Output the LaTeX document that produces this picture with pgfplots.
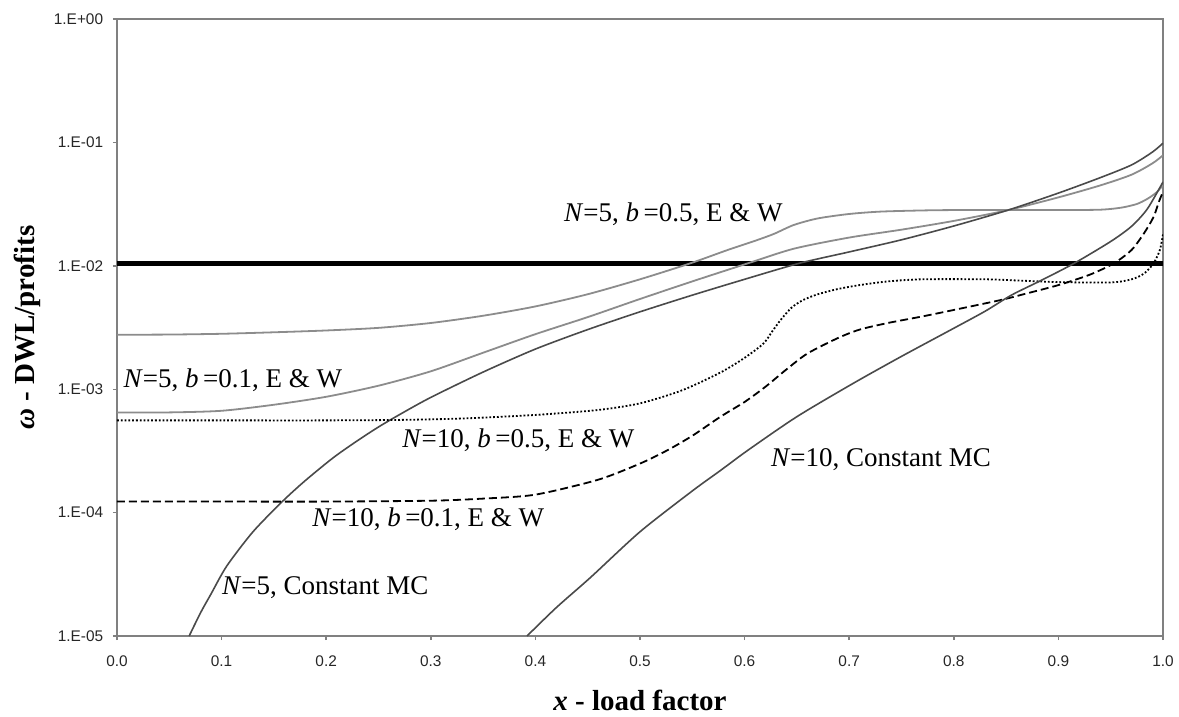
\documentclass[border=0pt]{standalone}
\usepackage{fontspec}
\setmainfont{Liberation Serif}
\newfontfamily\tickfont{Liberation Sans}
\usepackage{pgfplots}
\pgfplotsset{compat=1.18}
\definecolor{lgray}{HTML}{8C8C8C}
\definecolor{dgray}{HTML}{4A4A4A}
\definecolor{axgray}{HTML}{808080}
\newcommand{\lab}{\fontsize{13.5}{16}\selectfont}
\begin{document}
\begin{tikzpicture}
\useasboundingbox (-58.5pt,-40.5pt) rectangle (531pt,318pt);
\begin{axis}[
  at={(0,0)}, anchor=south west,
  scale only axis, width=523pt, height=308.35pt,
  xmin=0, xmax=1, ymin=1e-5, ymax=1, ymode=log,
  xtick={0,0.1,0.2,0.3,0.4,0.5,0.6,0.7,0.8,0.9,1},
  xticklabels={0.0,0.1,0.2,0.3,0.4,0.5,0.6,0.7,0.8,0.9,1.0},
  ytick={1e-5,1e-4,1e-3,1e-2,1e-1,1},
  yticklabels={1.E-05,1.E-04,1.E-03,1.E-02,1.E-01,1.E+00},
  yminorticks=false,
  tick pos=left, tick align=outside,
  major tick length=2pt,
  tick style={axgray, line width=0.8pt},
  axis line style={axgray, line width=0.9pt},
  ticklabel style={font=\tickfont\fontsize{7.7}{9}\selectfont, text=black!85},
  xticklabel style={yshift=-4.5pt},
  yticklabel style={xshift=-1.4pt},
  xlabel={\textbf{\textit{x} - load factor}},
  ylabel={\textbf{\textit{ω} - DWL/profits}},
  xlabel style={at={(axis description cs:0.5,-0.105)}, anchor=center, font=\fontsize{14.5}{17}\selectfont},
  ylabel style={at={(axis description cs:-0.086,0.5)}, anchor=center, rotate=0, font=\fontsize{14.5}{17}\selectfont},
  clip=true,
  every axis plot/.append style={smooth, tension=0.45},
]
% threshold line
\addplot[black, line width=2.3pt, sharp plot] coordinates {(0,0.0105) (1,0.0105)};
% N=5, b=0.5
\addplot[lgray, line width=0.9pt] coordinates {
(0,2.77e-3) (0.05,2.78e-3) (0.1,2.82e-3) (0.15,2.9e-3) (0.2,3.0e-3) (0.25,3.15e-3)
(0.3,3.45e-3) (0.35,3.95e-3) (0.4,4.7e-3) (0.45,5.9e-3) (0.5,7.8e-3) (0.548,0.0105)
(0.584,0.0135) (0.61,0.0160) (0.628,0.0182) (0.647,0.0215) (0.67,0.0243) (0.7,0.0264)
(0.73,0.0276) (0.77,0.0282) (0.8,0.0284) (0.85,0.0284) (0.9,0.0284) (0.94,0.0286)
(0.96,0.0297) (0.975,0.0318) (0.985,0.0350) (0.993,0.039) (1.0,0.045)};
% N=5, b=0.1
\addplot[lgray, line width=0.9pt] coordinates {
(0,6.5e-4) (0.05,6.5e-4) (0.1,6.7e-4) (0.15,7.5e-4) (0.2,8.7e-4) (0.25,1.07e-3)
(0.3,1.40e-3) (0.35,1.98e-3) (0.4,2.8e-3) (0.45,3.85e-3) (0.5,5.4e-3) (0.55,7.5e-3)
(0.603,0.0105) (0.647,0.0138) (0.7,0.0170) (0.75,0.0197) (0.8,0.0232) (0.852,0.0284)
(0.9,0.036) (0.94,0.045) (0.97,0.055) (0.99,0.068) (1.0,0.079)};
% N=5, constant MC
\addplot[dgray, line width=0.8pt] coordinates {
(0.069,1e-5) (0.08,1.55e-5) (0.09,2.2e-5) (0.105,3.7e-5) (0.13,7.0e-5) (0.158,1.23e-4)
(0.18,1.82e-4) (0.207,2.8e-4) (0.23,3.84e-4) (0.25,4.95e-4) (0.271,6.3e-4) (0.3,8.6e-4)
(0.35,1.38e-3) (0.4,2.12e-3) (0.45,3.05e-3) (0.5,4.25e-3) (0.55,5.8e-3) (0.6,7.8e-3)
(0.652,0.0105) (0.7,0.0130) (0.75,0.0163) (0.8,0.0211) (0.852,0.0284) (0.9,0.039)
(0.94,0.052) (0.97,0.066) (0.99,0.084) (1.0,0.099)};
% N=10, b=0.5 (dotted)
\addplot[black, line width=0.9pt, densely dotted] coordinates {
(0,5.6e-4) (0.1,5.6e-4) (0.2,5.6e-4) (0.27,5.65e-4) (0.33,5.8e-4) (0.4,6.2e-4)
(0.46,6.8e-4) (0.5,7.7e-4) (0.54,9.8e-4) (0.577,1.37e-3) (0.6,1.8e-3) (0.618,2.35e-3)
(0.627,3.0e-3) (0.635,3.7e-3) (0.645,4.6e-3) (0.656,5.3e-3) (0.67,5.9e-3) (0.689,6.5e-3)
(0.71,7.0e-3) (0.737,7.5e-3) (0.77,7.8e-3) (0.83,7.8e-3) (0.865,7.6e-3) (0.9,7.4e-3)
(0.95,7.35e-3) (0.97,7.8e-3) (0.982,8.7e-3) (0.991,0.0105) (0.997,0.0135) (1.0,0.018)};
% N=10, b=0.1 (dashed)
\addplot[black, line width=0.9pt, dash pattern=on 4pt off 2pt] coordinates {
(0,1.23e-4) (0.1,1.23e-4) (0.2,1.23e-4) (0.3,1.25e-4) (0.35,1.3e-4) (0.4,1.4e-4)
(0.46,1.85e-4) (0.5,2.5e-4) (0.526,3.2e-4) (0.55,4.2e-4) (0.577,6.0e-4) (0.6,7.9e-4)
(0.62,1.05e-3) (0.64,1.45e-3) (0.66,1.95e-3) (0.689,2.6e-3) (0.71,3.05e-3) (0.737,3.45e-3)
(0.77,3.9e-3) (0.8,4.4e-3) (0.845,5.3e-3) (0.87,6.0e-3) (0.9,7.0e-3) (0.93,8.5e-3)
(0.953,0.0105) (0.97,0.0135) (0.982,0.0185) (0.991,0.025) (0.996,0.033) (1.0,0.040)};
% N=10, constant MC
\addplot[dgray, line width=0.8pt] coordinates {
(0.392,1e-5) (0.42,1.7e-5) (0.453,3.0e-5) (0.5,7.0e-5) (0.55,1.5e-4) (0.577,2.2e-4)
(0.603,3.2e-4) (0.65,6.0e-4) (0.704,1.12e-3) (0.75,1.85e-3) (0.797,3.03e-3) (0.83,4.3e-3)
(0.855,5.8e-3) (0.883,7.6e-3) (0.915,0.0105) (0.95,0.0158) (0.97,0.021) (0.985,0.029) (1.0,0.048)};
% labels
\node[anchor=base west, inner sep=0pt, font=\lab] at (axis cs:0.427,0.0229) {\textit{N}=5, \textit{b}\,=0.5, E \& W};
\node[anchor=base west, inner sep=0pt, font=\lab] at (axis cs:0.006,1.04e-3) {\textit{N}=5, \textit{b}\,=0.1, E \& W};
\node[anchor=base west, inner sep=0pt, font=\lab] at (axis cs:0.2724,3.37e-4) {\textit{N}=10, \textit{b}\,=0.5, E \& W};
\node[anchor=base west, inner sep=0pt, font=\lab] at (axis cs:0.1863,7.73e-5) {\textit{N}=10, \textit{b}\,=0.1, E \& W};
\node[anchor=base west, inner sep=0pt, font=\lab] at (axis cs:0.1002,2.16e-5) {\textit{N}=5, Constant MC};
\node[anchor=base west, inner sep=0pt, font=\lab] at (axis cs:0.6249,2.37e-4) {\textit{N}=10, Constant MC};
\end{axis}
\end{tikzpicture}
\end{document}
